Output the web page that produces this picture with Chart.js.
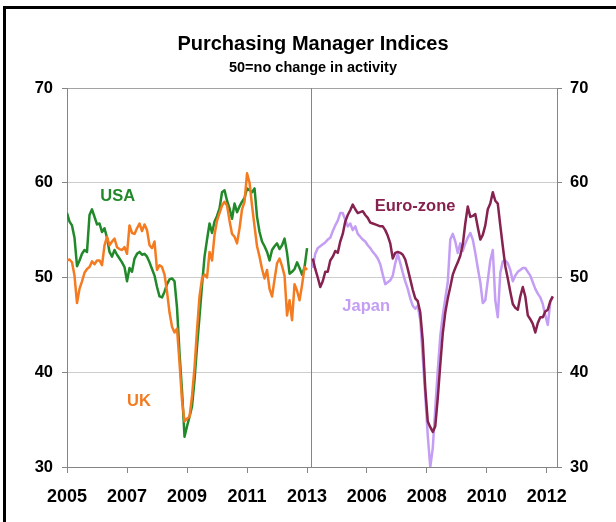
<!DOCTYPE html>
<html>
<head>
<meta charset="utf-8">
<title>Purchasing Manager Indices</title>
<script src="https://cdn.jsdelivr.net/npm/chart.js@4.4.1/dist/chart.umd.min.js"></script>
<style>
  html, body { margin: 0; padding: 0; background: #fff; }
  #wrap { width: 616px; height: 522px; }
</style>
</head>
<body>
<div id="wrap"><canvas id="pmiChart" width="616" height="522"></canvas></div>
<script>
// monthly series, left panel from Jan 2005
const leftStart = 2005;
// right panel series start (in that panel's own axis years)
const rightStart = 2004.2;

const leftTicks = [2005, 2007, 2009, 2011, 2013];
const rightTicks = [2006, 2008, 2010, 2012];
const yTicks = [30, 40, 50, 60, 70];

const usa = [
  56.8, 55.9, 55.5, 54.2, 51.2, 51.8, 52.5, 52.9, 52.7, 56.6, 57.2, 56.4,
  55.6, 55.7, 54.8, 55.2, 54.2, 52.7, 52.2, 52.9, 52.4, 52.0, 51.6, 51.1,
  49.6, 51.0, 50.6, 52.0, 52.5, 52.7, 52.4, 52.5, 52.2, 51.6, 50.9, 50.2,
  49.0, 48.0, 47.9, 48.5, 49.3, 49.8, 49.9, 49.6, 46.8, 42.0, 38.0, 33.2,
  34.3, 35.3, 36.4, 39.2, 42.7, 45.9, 49.2, 52.2, 54.0, 55.7, 54.7, 55.9,
  56.5, 57.3, 59.0, 59.2, 58.1, 57.3, 56.2, 57.8, 56.9, 57.5, 58.0, 58.4,
  59.4, 59.2, 59.0, 59.4, 56.4, 54.8, 53.8, 53.3, 52.7, 51.8, 52.9, 53.3,
  53.6, 53.0, 53.4, 54.1, 52.6, 50.4, 50.6, 50.9, 51.6, 51.0, 50.3, 51.1,
  53.1
];

const uk = [
  51.8, 51.9, 51.6, 50.2, 47.3, 48.8, 49.6, 50.5, 50.9, 51.1, 51.7, 51.4,
  51.8, 51.8, 51.3, 53.4, 54.3, 53.4, 53.8, 54.1, 53.2, 53.0, 52.9, 53.2,
  52.5, 55.5, 54.7, 54.6, 55.2, 55.7, 54.9, 55.6, 55.0, 53.4, 53.1, 53.8,
  50.8, 51.3, 51.1, 50.3, 48.5, 46.3, 44.8, 44.2, 44.6, 41.0, 37.0, 34.8,
  35.1, 35.3, 37.5, 40.5, 44.5, 48.0, 49.9, 50.3, 50.0, 52.7, 51.8, 54.5,
  56.0, 56.8, 57.6, 58.0, 57.6, 56.0, 54.6, 54.3, 53.6, 55.2, 57.2, 58.0,
  61.0, 60.0, 57.6, 55.4, 53.3, 52.2, 50.9, 49.9, 50.8, 48.8, 48.0, 49.8,
  51.5, 52.0, 51.2, 50.2, 46.0, 47.6, 45.5, 49.3, 48.6, 47.6, 49.2, 51.1,
  50.8
];

const euro = [
  52.0, 50.9, 50.0, 49.0, 49.6, 50.6, 50.6, 51.8, 52.2, 52.8, 52.6, 53.8,
  54.6, 55.9, 56.6, 57.1, 57.7, 57.2, 56.8, 56.9, 57.0, 56.6, 56.3, 55.8,
  55.7, 55.6, 55.5, 55.4, 55.4, 55.0, 54.4, 53.6, 52.0, 52.6, 52.7, 52.6,
  52.4, 51.9, 50.9, 49.8, 48.7, 47.8, 47.5, 46.3, 43.3, 38.3, 34.8, 34.2,
  33.7, 34.3, 37.3, 40.8, 44.1, 46.3, 47.8, 49.0, 50.3, 51.0, 51.6, 52.3,
  53.5, 55.7, 57.5, 56.4, 56.5, 56.7, 55.3, 54.0, 54.5, 55.5, 57.2, 57.8,
  59.0, 58.1, 57.8, 55.5, 53.3, 51.2, 49.9, 48.5, 47.2, 46.8, 46.6, 48.0,
  49.0, 48.0, 46.0, 45.6, 45.1, 44.2, 45.2, 45.8, 45.8, 46.4, 46.6, 47.5,
  48.0
];

const japan = [
  51.0, 52.5, 53.1, 53.3, 53.5, 53.7, 54.0, 54.2, 54.9, 55.5, 56.0, 56.8,
  56.8, 56.1, 55.4, 55.7, 55.0, 55.4, 54.6, 54.3, 54.0, 53.8, 53.4, 53.1,
  52.7, 52.4, 52.0, 51.4, 50.3, 49.3, 49.5, 49.7, 50.2, 51.5, 52.5, 51.5,
  50.5, 49.6, 48.8, 47.8, 47.0, 46.7, 47.0, 45.5, 41.5, 37.5, 33.3, 30.0,
  32.0, 36.2, 40.2, 43.8, 46.0, 47.8, 49.5, 54.0, 54.6, 53.8, 52.6, 53.6,
  52.8, 53.6, 54.2, 54.7, 54.0, 52.6, 51.0, 49.5, 47.3, 47.6, 49.7, 51.8,
  52.9, 47.6, 45.8, 50.5, 51.7, 51.8, 51.5, 50.8, 49.6, 50.2, 50.6, 50.8,
  51.0, 51.0, 50.6, 50.2, 49.5, 48.8, 48.3, 47.9, 47.2, 46.0, 45.0, 47.4,
  48.0
];

const usaColor = '#22892a';
const ukColor = '#f47b20';
const euroColor = '#86224f';
const japanColor = '#c49df4';
const axisColor = '#858585';

// x ranges of the two panels
const leftMin = 2005, leftMax = 2013.12;
const rightMin = 2004.13, rightMax = 2012.34;

// series names written inside the plot (data units)
const seriesLabels = [
  { text: 'USA', axis: 'x1', x: 2006.69, y: 58.6, color: usaColor },
  { text: 'UK', axis: 'x1', x: 2007.4, y: 36.9, color: ukColor },
  { text: 'Euro-zone', axis: 'x2', x: 2007.61, y: 57.55, color: euroColor },
  { text: 'Japan', axis: 'x2', x: 2005.98, y: 46.95, color: japanColor }
];

function monthly(values, start) {
  return values.map((v, i) => ({ x: start + i / 12, y: v }));
}

Chart.defaults.font.family = '"Liberation Sans", Arial, sans-serif';

const pagePlugin = {
  id: 'page',
  beforeDraw(chart) {
    const { ctx, width, height } = chart;
    ctx.save();
    ctx.fillStyle = '#fff';
    ctx.fillRect(0, 0, width, height);
    ctx.fillStyle = '#000';
    ctx.fillRect(3, 6, width - 3, 3);
    ctx.fillRect(3, 6, 3, height - 6);
    ctx.restore();
  },
  beforeDatasetsDraw(chart) {
    // divider between the two panels
    const area = chart.chartArea;
    const x = Math.round(chart.scales.x1.right) + 0.5;
    const ctx = chart.ctx;
    ctx.save();
    ctx.strokeStyle = axisColor;
    ctx.lineWidth = 1;
    ctx.beginPath();
    ctx.moveTo(x, area.top);
    ctx.lineTo(x, area.bottom);
    ctx.stroke();
    ctx.restore();
  },
  afterDatasetsDraw(chart) {
    const ctx = chart.ctx;
    ctx.save();
    ctx.font = 'bold 16.5px "Liberation Sans", Arial, sans-serif';
    ctx.textAlign = 'center';
    ctx.textBaseline = 'middle';
    seriesLabels.forEach(l => {
      ctx.fillStyle = l.color;
      ctx.fillText(l.text, chart.scales[l.axis].getPixelForValue(l.x), chart.scales.y.getPixelForValue(l.y));
    });
    ctx.restore();
  }
};

function xAxis(min, max, ticks) {
  return {
    type: 'linear',
    position: 'bottom',
    stack: 'panels',
    stackWeight: max - min,
    min: min,
    max: max,
    afterBuildTicks: s => { s.ticks = ticks.map(v => ({ value: v })); },
    afterFit: s => { s.height = 55; },
    ticks: {
      callback: v => String(v),
      autoSkip: false,
      maxRotation: 0,
      padding: 13,
      color: '#000',
      font: { size: 18, weight: 'bold' }
    },
    grid: { drawOnChartArea: false, drawTicks: true, tickLength: 6, tickColor: axisColor },
    border: { color: axisColor }
  };
}

function yAxis(position, width) {
  return {
    type: 'linear',
    position: position,
    min: 30,
    max: 70,
    afterBuildTicks: s => { s.ticks = yTicks.map(v => ({ value: v })); },
    afterFit: s => { s.width = width; },
    ticks: {
      padding: position === 'left' ? 9 : 8,
      color: '#000',
      font: { size: 16.5, weight: 'bold' }
    },
    grid: {
      drawOnChartArea: position === 'left',
      tickLength: 5,
      tickColor: axisColor,
      color: c => c.tick.value === 70 ? '#a3a3a3' : (c.tick.value === 30 ? 'rgba(0,0,0,0)' : '#cdcdcd')
    },
    border: { color: axisColor }
  };
}

const ctx = document.getElementById('pmiChart').getContext('2d');

const pmiChart = new Chart(ctx, {
  type: 'line',
  data: {
    datasets: [
      { label: 'UK', data: monthly(uk, leftStart), xAxisID: 'x1', yAxisID: 'y', borderColor: ukColor },
      { label: 'USA', data: monthly(usa, leftStart), xAxisID: 'x1', yAxisID: 'y', borderColor: usaColor },
      { label: 'Euro-zone', data: monthly(euro, rightStart), xAxisID: 'x2', yAxisID: 'y', borderColor: euroColor },
      { label: 'Japan', data: monthly(japan, rightStart), xAxisID: 'x2', yAxisID: 'y', borderColor: japanColor }
    ]
  },
  options: {
    responsive: false,
    animation: false,
    devicePixelRatio: 1,
    layout: { padding: { left: 10, right: 0, top: 0, bottom: 0 } },
    elements: {
      line: { borderWidth: 2.5, tension: 0, borderJoinStyle: 'round', fill: false },
      point: { radius: 0 }
    },
    plugins: {
      legend: { display: false },
      tooltip: { enabled: false },
      title: {
        display: true,
        text: 'Purchasing Manager Indices',
        color: '#000',
        font: { size: 20, weight: 'bold' },
        padding: { top: 32, bottom: 0 }
      },
      subtitle: {
        display: true,
        text: '50=no change in activity',
        color: '#000',
        font: { size: 14.5, weight: 'bold' },
        padding: { top: 3.3, bottom: 11.3 }
      }
    },
    scales: {
      x1: xAxis(leftMin, leftMax, leftTicks),
      x2: xAxis(rightMin, rightMax, rightTicks),
      y: yAxis('left', 57),
      y2: yAxis('right', 59)
    }
  },
  plugins: [pagePlugin]
});
</script>
</body>
</html>
